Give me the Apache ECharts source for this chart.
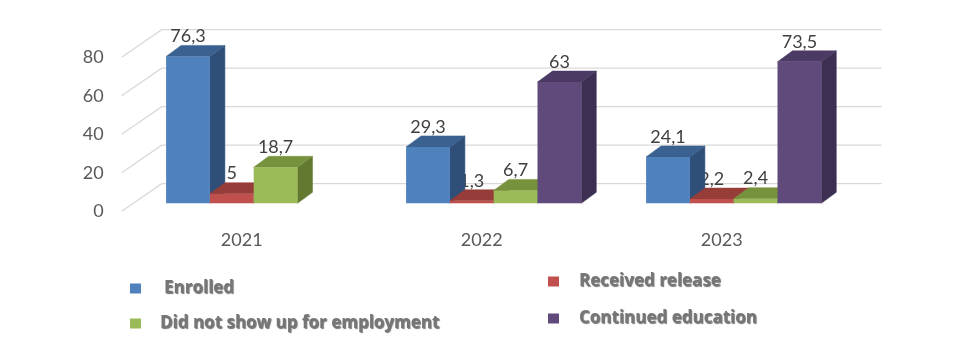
<!DOCTYPE html>
<html>
<head>
<meta charset="utf-8">
<script src="https://cdn.jsdelivr.net/npm/echarts@6/dist/echarts.min.js"></script>
<style>
html,body{margin:0;padding:0;background:#fff;}
#chart{width:972px;height:354px;}
</style>
</head>
<body>
<div id="chart"></div>
<script>
// ---- data ----
const categories = ['2021', '2022', '2023'];
const seriesNames = ['Enrolled', 'Received release', 'Did not show up for employment', 'Continued education'];
const enrolled = [76.3, 29.3, 24.1];
const receivedRelease = [5, 1.3, 2.2];
const didNotShowUp = [18.7, 6.7, 2.4];
const continuedEducation = [null, 63, 73.5];
const yTicks = [0, 20, 40, 60, 80];

// ---- styling ----
const valuesBySeries = [enrolled, receivedRelease, didNotShowUp, continuedEducation];
const faceColors = [
  { front: '#4f81bd', top: '#3b6190', side: '#2f4f78' },
  { front: '#c0504d', top: '#963c39', side: '#893532' },
  { front: '#9bbb59', top: '#76923c', side: '#63792f' },
  { front: '#604a7b', top: '#4b3a63', side: '#3d2f51' }
];
const FRONT = { dx: 12, dy: -8 };
const BACK = { dx: 27, dy: -19 };
const WALL = { dx: 40, dy: -27.7 };
const CAT_GAP = 0.27;
const NSLOTS = 4;

function barGeom(api, cat, val, slot) {
  const base = api.coord([cat, 0]);
  const top = api.coord([cat, val]);
  const band = api.size([1, 0])[0];
  const barW = band * (1 - CAT_GAP) / NSLOTS;
  const xl = base[0] - barW * NSLOTS / 2 + slot * barW;
  return { xl: xl, xr: xl + barW, barW: barW, by: base[1], ty: top[1] };
}

function makeBarRender(slot) {
  const c = faceColors[slot];
  return function (params, api) {
    const cat = api.value(0), val = api.value(1);
    if (val == null || isNaN(val)) return null;
    const g = barGeom(api, cat, val, slot);
    const F = FRONT, B = BACK;
    return {
      type: 'group',
      children: [
        { type: 'polygon', shape: { points: [
            [g.xr + F.dx, g.ty + F.dy], [g.xr + B.dx, g.ty + B.dy],
            [g.xr + B.dx, g.by + B.dy], [g.xr + F.dx, g.by + F.dy]] },
          style: { fill: c.side, stroke: c.side, lineWidth: 0.5 } },
        { type: 'polygon', shape: { points: [
            [g.xl + F.dx, g.ty + F.dy], [g.xr + F.dx, g.ty + F.dy],
            [g.xr + B.dx, g.ty + B.dy], [g.xl + B.dx, g.ty + B.dy]] },
          style: { fill: c.top, stroke: c.top, lineWidth: 0.5 } },
        { type: 'rect', shape: { x: g.xl + F.dx, y: g.ty + F.dy, width: g.barW, height: g.by - g.ty },
          style: { fill: c.front } }
      ]
    };
  };
}

// label table built from arrays: [catIndex, value, slot]
const labelData = [];
valuesBySeries.forEach(function (arr, s) {
  arr.forEach(function (v, ci) { if (v != null) labelData.push([ci, v, s]); });
});

const series = [];
series.push({
  type: 'custom', name: 'grid', z: 1, silent: true, clip: false,
  data: yTicks.map(function (v) { return [0, v]; }),
  encode: { x: 0, y: 1 },
  renderItem: function (params, api) {
    const cs = params.coordSys;
    const y = api.coord([0, api.value(1)])[1];
    return { type: 'polyline', shape: { points: [
        [cs.x, y], [cs.x + WALL.dx, y + WALL.dy], [cs.x + cs.width + WALL.dx, y + WALL.dy]] },
      style: { stroke: '#d9d9d9', lineWidth: 1.3, fill: null } };
  }
});
series.push({
  type: 'custom', name: 'labels', z: 2, silent: true, clip: false,
  data: labelData,
  encode: { x: 0, y: 1 },
  renderItem: function (params, api) {
    const cat = api.value(0), val = api.value(1), slot = api.value(2);
    const g = barGeom(api, cat, val, slot);
    return { type: 'text', style: {
        text: String(val).replace('.', ','),
        x: g.xl + g.barW / 2 + FRONT.dx, y: g.ty + FRONT.dy - 20,
        align: 'center', verticalAlign: 'middle',
        font: '18px Lato', fill: '#404040' } };
  }
});
seriesNames.forEach(function (name, s) {
  series.push({
    type: 'custom', name: name, z: 3, clip: false,
    itemStyle: { color: faceColors[s].front },
    data: valuesBySeries[s].map(function (v, ci) { return [ci, v == null ? '-' : v]; }),
    encode: { x: 0, y: 1 },
    renderItem: makeBarRender(s)
  });
});

const legendText = {
  fontFamily: 'Open Sans', fontWeight: 'bold', fontSize: 17, color: '#767676',
  textShadowColor: 'rgba(0,0,0,0.55)', textShadowOffsetX: 1, textShadowOffsetY: 1, textShadowBlur: 1
};
function mkLegend(name, left, top, pad) {
  return {
    data: [name], left: left, top: top, padding: 0, orient: 'horizontal',
    icon: 'rect', itemWidth: 11, itemHeight: 10, selectedMode: false,
    textStyle: Object.assign({}, legendText, { padding: pad })
  };
}

const option = {
  animation: false,
  backgroundColor: '#ffffff',
  grid: { left: 121.7, right: 130.3, top: 57.3, bottom: 142.7, containLabel: false, outerBoundsMode: 'none' },
  xAxis: {
    type: 'category', data: categories,
    axisLine: { show: false }, axisTick: { show: false }, splitLine: { show: false },
    axisLabel: { fontSize: 18, fontFamily: 'Lato', color: '#595959', margin: 20 }
  },
  yAxis: {
    type: 'value', min: 0, max: 80, interval: 20,
    axisLine: { show: false }, axisTick: { show: false }, splitLine: { show: false },
    axisLabel: { fontSize: 18, fontFamily: 'Lato', color: '#595959', margin: 18 }
  },
  legend: [
    mkLegend('Enrolled', 130, 280, [2, 0, 0, 18]),
    mkLegend('Did not show up for employment', 130, 315, [4, 0, 0, 14]),
    mkLegend('Received release', 548, 273, [0, 0, 9, 15]),
    mkLegend('Continued education', 548, 310, [0, 0, 6, 15])
  ],
  series: series
};

const chart = echarts.init(document.getElementById('chart'), null, { renderer: 'canvas' });
chart.setOption(option);
</script>
</body>
</html>
